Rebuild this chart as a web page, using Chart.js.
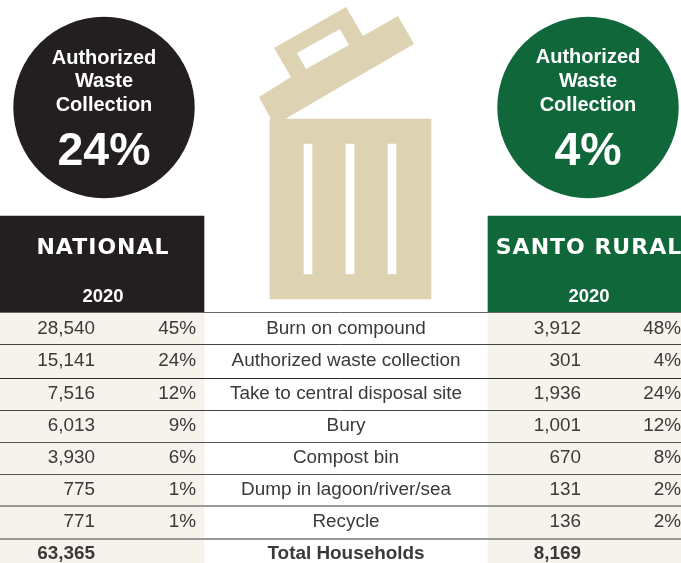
<!DOCTYPE html>
<html>
<head>
<meta charset="utf-8">
<title>Waste disposal</title>
<script src="https://cdn.jsdelivr.net/npm/chart.js@4/dist/chart.umd.min.js"></script>
<style>
  html, body { margin: 0; padding: 0; background: #fff; }
  canvas { display: block; }
</style>
</head>
<body>
<canvas id="chart" width="681" height="563"></canvas>
<script>
// table content
const categories = ["Burn on compound", "Authorized waste collection", "Take to central disposal site", "Bury", "Compost bin", "Dump in lagoon/river/sea", "Recycle"];
const nationalCounts = [28540, 15141, 7516, 6013, 3930, 775, 771];
const nationalShares = [45, 24, 12, 9, 6, 1, 1];
const santoCounts = [3912, 301, 1936, 1001, 670, 131, 136];
const santoShares = [48, 4, 24, 12, 8, 2, 2];
const nationalTotal = 63365;
const santoTotal = 8169;
const totalLabel = "Total Households";
const year = "2020";
const calloutLines = ["Authorized", "Waste", "Collection"];
const calloutIndex = categories.indexOf("Authorized waste collection");

// layout, in page pixels (the chart's scales run 0-681 and 0-563)
const BLACK = "#231f20", GREEN = "#0f673a", TAN = "#ddd3b2", CREAM = "#f6f3ec", INK = "#3a3a3a";
const rowLines = [312, 344, 378, 410, 442, 474, 506, 539];
const rowText = [329, 361, 394, 426, 458, 490, 522, 554];
const lineColors = ["#666", "#444", "#2c2c2c", "#444", "#555", "#555", "#999", "#999"];
const lineWidths = [1, 1, 1, 1, 1, 1, 2, 2];

// vertical floating bar: centre x, top, bottom, width
function block(x0, x1, y0, y1, color) {
  return {
    type: "bar",
    data: [{ x: (x0 + x1) / 2, y: [y0, y1] }],
    barThickness: x1 - x0,
    backgroundColor: color,
    borderWidth: 0,
    grouped: false
  };
}

// closed outline for the lid of the bin
function outline(points, color) {
  return {
    type: "scatter",
    data: points.map(p => ({ x: p[0], y: p[1] })),
    showLine: true,
    fill: "shape",
    tension: 0,
    borderWidth: 0,
    pointRadius: 0,
    backgroundColor: color,
    borderColor: color
  };
}

function circle(x, y, r, color) {
  return {
    type: "bubble",
    data: [{ x: x, y: y, r: r }],
    backgroundColor: color,
    borderWidth: 0,
    hoverRadius: 0
  };
}

const fmt = n => n.toLocaleString("en-US");

// all of the table and callout text, placed through the scales
const textPlugin = {
  id: "tableText",
  afterDatasetsDraw(chart) {
    const { ctx, scales: { x, y } } = chart;
    const put = (s, px, py, font, color, align, spacing) => {
      ctx.font = font;
      ctx.fillStyle = color;
      ctx.textAlign = align;
      ctx.textBaseline = "middle";
      ctx.letterSpacing = spacing || "0px";
      ctx.fillText(s, x.getPixelForValue(px), y.getPixelForValue(py));
    };
    const body = '18.9px "Liberation Sans"', bold = 'bold 18.9px "Liberation Sans"';
    ctx.save();

    categories.forEach((c, i) => {
      put(fmt(nationalCounts[i]), 95, rowText[i], body, INK, "right");
      put(nationalShares[i] + "%", 196, rowText[i], body, INK, "right");
      put(c, 346, rowText[i], body, INK, "center");
      put(fmt(santoCounts[i]), 581, rowText[i], body, INK, "right");
      put(santoShares[i] + "%", 681, rowText[i], body, INK, "right");
    });
    put(fmt(nationalTotal), 95, rowText[7], bold, INK, "right");
    put(totalLabel, 346, rowText[7], bold, INK, "center");
    put(fmt(santoTotal), 581, rowText[7], bold, INK, "right");

    // headers
    const head = 'bold 22px "DejaVu Sans"';
    put("NATIONAL", 103, 248, head, "#fff", "center", "1px");
    put("SANTO RURAL", 589, 248, head, "#fff", "center", "1px");
    put(year, 103, 297, 'bold 18.5px "Liberation Sans"', "#fff", "center");
    put(year, 589, 297, 'bold 18.5px "Liberation Sans"', "#fff", "center");

    // circles
    const label = 'bold 20px "Liberation Sans"';
    calloutLines.forEach((l, i) => {
      put(l, 104, 58 + i * 23.5, label, "#fff", "center");
      put(l, 588, 57 + i * 24, label, "#fff", "center");
    });
    const big = 'bold 46.5px "Liberation Sans"';
    put(nationalShares[calloutIndex] + "%", 104, 152, big, "#fff", "center");
    put(santoShares[calloutIndex] + "%", 588, 152, big, "#fff", "center");
    ctx.restore();
  }
};

new Chart(document.getElementById("chart"), {
  type: "bar",
  data: {
    // first dataset ends up on top
    datasets: [
      outline([[297, 53], [340, 29], [349, 45], [306, 69]], "#fff"),
      outline([[259, 97], [291, 77], [274, 48], [346, 7], [363, 36], [398, 16], [414, 44], [285, 119], [271, 119]], TAN),
      // the bin: three slots, then the body
      block(304, 312, 144, 274, "#fff"),
      block(346, 354, 144, 274, "#fff"),
      block(388, 396, 144, 274, "#fff"),
      block(270, 431, 119, 299, TAN),
      block(0, 204, 216, 312, BLACK),
      block(488, 681, 216, 312, GREEN),
      block(0, 204, 312, 563, CREAM),
      block(488, 681, 312, 563, CREAM),
      circle(104, 107.5, 90.7, BLACK),
      circle(588, 107.5, 90.7, GREEN)
    ]
  },
  plugins: [textPlugin],
  options: {
    responsive: false,
    animation: false,
    layout: { padding: 0, autoPadding: false },
    plugins: { legend: { display: false }, tooltip: { enabled: false } },
    scales: {
      x: {
        type: "linear", min: 0, max: 681, offset: false,
        display: false
      },
      y: {
        type: "linear", min: 0, max: 563, reverse: true,
        border: { display: false },
        ticks: { display: false },
        afterBuildTicks(scale) { scale.ticks = rowLines.map(v => ({ value: v })); },
        grid: {
          z: 1,
          drawTicks: false,
          color: ctx => lineColors[ctx.index],
          lineWidth: ctx => lineWidths[ctx.index]
        }
      }
    }
  }
});
</script>
</body>
</html>
